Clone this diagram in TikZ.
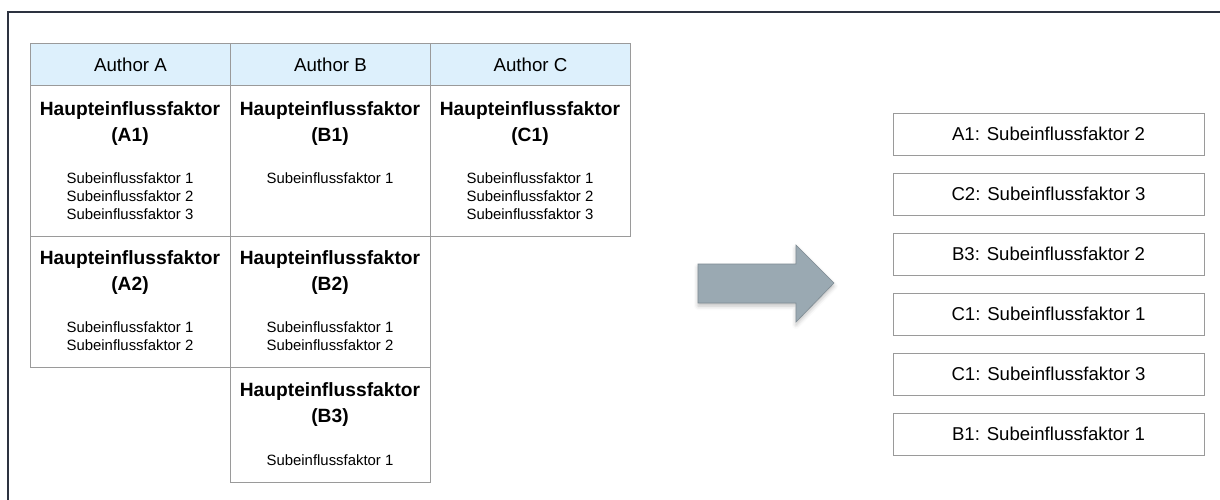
\documentclass[tikz,border=0pt]{standalone}
\usepackage{fontspec}
\setmainfont{Liberation Sans}
\usetikzlibrary{shadows.blur}
\definecolor{framecol}{HTML}{2D3340}
\definecolor{gridcol}{HTML}{9A9A9A}
\definecolor{headfill}{HTML}{DDF0FC}
\definecolor{arrowfill}{HTML}{9AA9B2}
\definecolor{arrowline}{HTML}{7E8B93}
\begin{document}
\begin{tikzpicture}[x=1pt,y=-1pt,
  cell/.style={draw=gridcol,line width=0.9pt,minimum width=200pt,anchor=north west,inner sep=0pt},
  headcell/.style={cell,fill=headfill,minimum height=42pt},
  headtext/.style={font=\fontsize{18.7}{22}\selectfont,inner sep=0pt},
  maintext/.style={font=\fontsize{19.2}{26}\selectfont\bfseries,align=center,inner sep=0pt},
  subtext/.style={font=\fontsize{14.9}{18}\selectfont,align=center,inner sep=0pt,anchor=north},
  resultbox/.style={draw=gridcol,line width=0.9pt,minimum width=311pt,minimum height=42pt,
    inner sep=0pt,font=\fontsize{18.6}{22}\selectfont}]
\useasboundingbox (0,0) rectangle (1220,500);

% outer frame (open to the right and bottom)
\draw[framecol,line width=1.3pt] (8,500) -- (8,12) -- (1220,12);

% header row
\node[headcell] (hA) at (30,43) {};
\node[headcell] (hB) at (230,43) {};
\node[headcell] (hC) at (430,43) {};
\node[headtext] (tA) at (hA.center) {Author A};
\node[headtext] (tB) at (hB.center) {Author B};
\node[headtext] (tC) at (hC.center) {Author C};

% body cells
\node[cell,minimum height=151pt] (cA1) at (30,85) {};
\node[cell,minimum height=151pt] (cB1) at (230,85) {};
\node[cell,minimum height=151pt] (cC1) at (430,85) {};
\node[cell,minimum height=131pt] (cA2) at (30,236) {};
\node[cell,minimum height=131pt] (cB2) at (230,236) {};
\node[cell,minimum height=115pt] (cB3) at (230,367) {};

% cell contents
\node[maintext] (mA1) at (130,123.5) {Haupteinflussfaktor\\(A1)};
\node[maintext] (mB1) at (330,123.5) {Haupteinflussfaktor\\(B1)};
\node[maintext] (mC1) at (530,123.5) {Haupteinflussfaktor\\(C1)};
\node[maintext] (mA2) at (130,273) {Haupteinflussfaktor\\(A2)};
\node[maintext] (mB2) at (330,273) {Haupteinflussfaktor\\(B2)};
\node[maintext] (mB3) at (330,404.5) {Haupteinflussfaktor\\(B3)};

\node[subtext] (sA1) at (130,172.5) {Subeinflussfaktor 1\\Subeinflussfaktor 2\\Subeinflussfaktor 3};
\node[subtext] (sB1) at (330,172.5) {Subeinflussfaktor 1};
\node[subtext] (sC1) at (530,172.5) {Subeinflussfaktor 1\\Subeinflussfaktor 2\\Subeinflussfaktor 3};
\node[subtext] (sA2) at (130,321.5) {Subeinflussfaktor 1\\Subeinflussfaktor 2};
\node[subtext] (sB2) at (330,321.5) {Subeinflussfaktor 1\\Subeinflussfaktor 2};
\node[subtext] (sB3) at (330,454.5) {Subeinflussfaktor 1};

% block arrow
\draw[fill=arrowfill,draw=arrowline,line width=0.6pt,
  blur shadow={shadow xshift=0pt,shadow yshift=-3pt,shadow blur radius=4pt,shadow opacity=25}]
  (698,264) -- (796,264) -- (796,245) -- (834,283) -- (796,322) -- (796,303) -- (698,303) -- cycle;

% result list
\node[resultbox] (r1) at (1048.5,134) {A1: Subeinflussfaktor 2};
\node[resultbox] (r2) at (1048.5,194) {C2: Subeinflussfaktor 3};
\node[resultbox] (r3) at (1048.5,254) {B3: Subeinflussfaktor 2};
\node[resultbox] (r4) at (1048.5,314) {C1: Subeinflussfaktor 1};
\node[resultbox] (r5) at (1048.5,374) {C1: Subeinflussfaktor 3};
\node[resultbox] (r6) at (1048.5,434) {B1: Subeinflussfaktor 1};
\end{tikzpicture}
\end{document}
